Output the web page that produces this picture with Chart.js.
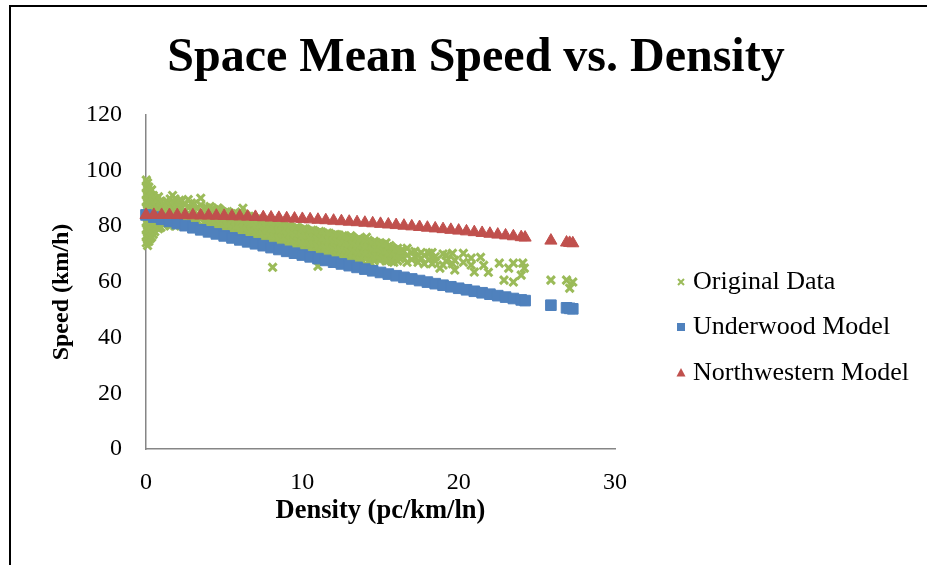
<!DOCTYPE html>
<html>
<head>
<meta charset="utf-8">
<title>Space Mean Speed vs. Density</title>
<script src="https://cdn.jsdelivr.net/npm/chart.js@4.4.1/dist/chart.umd.min.js"></script>
<style>
  html, body { margin: 0; padding: 0; background: #fff; overflow: hidden; }
  #frame {
    position: absolute; left: 9px; top: 5px;
    width: 930px; height: 560px;
    border-left: 2px solid #000; border-top: 2px solid #000;
  }
  #frame canvas { display: block; }
</style>
</head>
<body>
<div id="frame"><canvas id="speedChart" width="930" height="560"></canvas></div>
<script>
// observed detector data: density (pc/km/ln) -> speeds (km/h) seen at that density
const obsDensity = [
  0.02, 0.1, 0.18, 0.27, 0.36, 0.46, 0.56, 0.67, 0.8, 0.95,
  1.1, 1.25, 1.4, 1.55, 1.7, 1.85, 2.0, 2.15, 2.3, 2.5,
  2.7, 2.9, 3.1, 3.3, 3.5, 3.7, 3.9, 4.1, 4.35, 4.6,
  4.85, 5.1, 5.35, 5.6, 5.85, 6.1, 6.2, 6.35, 6.6, 6.85,
  7.1, 7.35, 7.6, 7.85, 8.1, 8.35, 8.6, 8.85, 9.1, 9.35,
  9.6, 9.85, 10.1, 10.35, 10.6, 10.85, 11.0, 11.1, 11.35, 11.6,
  11.85, 12.1, 12.35, 12.6, 12.85, 13.1, 13.35, 13.6, 13.85, 14.1,
  14.35, 14.6, 14.85, 15.1, 15.35, 15.6, 15.85, 16.1, 16.4, 16.7,
  17.0, 17.2, 17.4, 17.6, 17.8, 18.1, 18.3, 18.5, 18.8, 19.0,
  19.2, 19.6, 19.75, 20.3, 20.8, 21.0, 21.4, 21.6, 21.9, 22.6,
  22.9, 23.2, 23.5, 24.0, 24.1, 24.2, 25.9, 26.9, 27.1, 27.3,
  4.22, 4.47, 4.72, 4.97, 5.22, 5.47, 5.72, 5.97, 6.22, 6.47,
  6.72, 6.97, 7.22, 7.47, 7.72, 7.97, 8.22, 8.47, 8.72, 8.97,
  9.22, 9.47, 9.72, 9.97, 10.22, 10.47, 10.72, 10.97, 11.22, 11.47,
  11.72, 11.97, 12.22, 12.47, 12.72, 12.97, 13.22, 13.47, 13.72, 13.97,
  14.22, 14.47, 14.72, 14.97, 15.22, 15.47, 15.72, 15.97, 16.25
];
const obsSpeed = [
  [96.5, 94, 91.5, 89, 86.5, 84, 81.5, 79, 76.5, 74],
  [95.5, 93, 90.5, 88, 85.5, 83, 80.5, 78, 75.5, 73],
  [94, 91.5, 89, 86.5, 84, 81.5, 79, 76.5, 74.5],
  [92.5, 90, 87.5, 85, 82.5, 80, 77.5, 75.5],
  [93, 90.5, 88, 85.5, 83, 80.5, 78, 76],
  [91, 88.5, 86, 83.5, 81, 78.5, 77],
  [90, 87.5, 85, 82.5, 80, 78],
  [89.5, 87, 84.5, 82, 79.5],
  [90.5, 88, 85.5, 83, 80.5, 79],
  [89, 86.5, 84, 81.5, 79.5],
  [88, 85.5, 83, 80.5],
  [88.75, 86.25, 83.75, 81.25],
  [88.5, 86, 83.5, 81],
  [89.75, 87.25, 84.75, 82.25, 80],
  [91, 88.5, 86, 83.5, 81],
  [89.75, 87.25, 84.75, 82.25, 80],
  [88.5, 86, 83.5, 81],
  [89.25, 86.75, 84.25, 81.75],
  [89, 86.5, 84, 81.5],
  [87.75, 85.25, 82.75, 80.5],
  [89.5, 87, 84.5, 82],
  [88.25, 85.75, 83.25, 80.75],
  [88, 85.5, 83, 80.5],
  [86.75, 84.25, 81.75, 79.5],
  [90, 87.5, 85, 82.5, 80],
  [86.25, 83.75, 81.25, 79],
  [86.5, 84, 81.5, 79.5],
  [87, 84.5, 82, 79.5],
  [85.75, 83.25, 80.75, 78.5],
  [86.5, 84, 81.5, 79],
  [85.25, 82.75, 80.25, 78],
  [85, 82.5, 80, 77.5],
  [84.25, 81.75, 79.25, 77],
  [84.5, 82, 79.5, 77],
  [83.25, 80.75, 78.25, 76],
  [85, 82.5, 80, 77.5],
  [86.4],
  [84, 81.75, 79.25, 76.75],
  [83.5, 81, 78.5, 76],
  [82.25, 79.75, 77.25, 75],
  [82.5, 80, 77.5, 75],
  [81.75, 79.25, 76.75, 74.5],
  [82, 79.5, 77, 74.5],
  [81, 78.25, 75.75, 73.75],
  [81.5, 79, 76.5, 74, 65.2],
  [80.25, 77.75, 75.25, 73],
  [81, 78.5, 76, 73.5],
  [79.75, 77.25, 74.75, 72.5],
  [80, 77.5, 75, 72.5],
  [79.25, 76.75, 74.25, 72],
  [79.5, 77, 74.5, 72],
  [78.75, 76.25, 73.75, 71.5],
  [79, 76.5, 74, 71.5],
  [78.25, 75.75, 73.25, 71],
  [78.5, 76, 73.5, 71],
  [77.75, 75.25, 72.75, 70.5],
  [65.6],
  [78, 75.5, 73, 70.5],
  [77.25, 74.75, 72.25, 70],
  [77.5, 75, 72.5, 70],
  [76.75, 74.25, 71.75, 69.5],
  [77, 74.5, 72, 69.5],
  [76.75, 74.25, 71.75, 69.25],
  [76.5, 74, 71.5, 69],
  [75.75, 73.25, 70.75, 68.5],
  [76.5, 74, 71.5, 69],
  [75.25, 72.75, 70.25, 68],
  [75.5, 73, 70.5, 68.5],
  [74.75, 72.25, 69.75, 67.5],
  [76, 73.5, 71, 68.5],
  [74.25, 71.75, 69.25, 67],
  [74.5, 72, 69.5, 67.5],
  [73.75, 71.25, 68.75],
  [73.5, 71, 68.5],
  [74, 72.25, 69.75, 67.5],
  [73, 70.5, 68],
  [71.75, 69.25, 67],
  [72, 69.5, 67.5],
  [71.5, 69],
  [72, 69.5, 67],
  [68, 70.5],
  [71, 69],
  [69.5, 67],
  [70.5, 68.5],
  [66.5, 69.5],
  [70.2, 68],
  [66.5, 70.5],
  [69, 67.5],
  [64.9],
  [66, 70],
  [69.5, 67.5],
  [70.2, 66.5],
  [64.2, 67.7],
  [70.2, 67],
  [68.5, 66],
  [63.5],
  [68.8],
  [65.9],
  [63.4],
  [66.7],
  [60.6],
  [64.9],
  [66.7, 59.9],
  [62.4],
  [66.7],
  [64.9],
  [60.6],
  [60.6],
  [57.7],
  [59.9],
  [86.1, 83.6, 81.1, 78.6],
  [85.4, 82.9, 80.4, 77.9],
  [85.9, 83.4, 80.9, 78.4],
  [84.9, 82.4, 79.9, 77.4],
  [85.2, 82.7, 80.2, 77.7],
  [84.4, 81.9, 79.4, 76.9],
  [84.7, 82.2, 79.7, 77.2],
  [83.9, 81.4, 78.9, 76.4],
  [84.2, 81.7, 79.2, 76.7],
  [83.4, 80.9, 78.4, 75.9],
  [83.2, 80.7, 78.2, 75.7],
  [82.6, 80.1, 77.6, 75.1],
  [82.4, 79.9, 77.4, 74.9],
  [81.9, 79.4, 76.9, 74.4],
  [81.7, 79.2, 76.7, 74.2],
  [81.1, 78.6, 76.1, 73.6],
  [80.9, 78.4, 75.9, 73.4],
  [80.4, 77.9, 75.4, 72.9],
  [80.6, 78.1, 75.6, 73.1],
  [79.6, 77.1, 74.6, 72.1],
  [79.9, 77.4, 74.9, 72.4],
  [79.1, 76.6, 74.1, 71.6],
  [79.4, 76.9, 74.4, 71.9],
  [78.6, 76.1, 73.6, 71.1],
  [78.9, 76.4, 73.9, 71.4],
  [78.1, 75.6, 73.1, 70.6],
  [78.4, 75.9, 73.4, 70.9],
  [77.6, 75.1, 72.6, 70.1],
  [77.9, 75.4, 72.9, 70.4],
  [77.1, 74.6, 72.1, 69.6],
  [77.4, 74.9, 72.4, 69.9],
  [76.6, 74.1, 71.6, 69.1],
  [76.9, 74.4, 71.9, 69.4],
  [76.1, 73.6, 71.1, 68.6],
  [76.2, 73.7, 71.2, 68.7],
  [75.6, 73.1, 70.6, 68.1],
  [75.9, 73.4, 70.9, 68.4],
  [75.1, 72.6, 70.1, 67.6],
  [75.2, 72.7, 70.2, 67.7],
  [74.6, 72.1, 69.6],
  [74.9, 72.4, 69.9, 67.4],
  [73.9, 71.4, 68.9],
  [74.1, 71.6, 69.1],
  [73.1, 70.6, 68.1],
  [73.3, 70.8, 68.3],
  [72.6, 70.1, 67.6],
  [72.3, 69.8, 67.3],
  [71.4, 68.9],
  [70.8, 68.3]
];

// fitted model curves, same density points for both
const modelDensity = [
  0, 0.5, 1, 1.5, 2, 2.5, 3, 3.5, 4, 4.5, 5, 5.5, 6, 6.5, 7, 7.5, 8, 8.5, 9, 9.5,
  10, 10.5, 11, 11.5, 12, 12.5, 13, 13.5, 14, 14.5, 15, 15.5, 16, 16.5, 17, 17.5,
  18, 18.5, 19, 19.5, 20, 20.5, 21, 21.5, 22, 22.5, 23, 23.5, 24, 24.25,
  25.9, 26.9, 27.1, 27.3
];
const underwoodSpeed = [
  84.0, 83.21, 82.44, 81.67, 80.90, 80.14, 79.39, 78.65, 77.92, 77.19, 76.47, 75.75,
  75.04, 74.34, 73.65, 72.96, 72.27, 71.60, 70.93, 70.26, 69.60, 68.95, 68.31, 67.67,
  67.04, 66.41, 65.79, 65.17, 64.56, 63.96, 63.36, 62.77, 62.18, 61.60, 61.02, 60.45,
  59.89, 59.33, 58.77, 58.22, 57.68, 57.14, 56.60, 56.07, 55.55, 55.03, 54.51, 54.00,
  53.50, 53.25, 51.6, 50.66, 50.47, 50.3
];
const northwesternSpeed = [
  84.00, 84.00, 83.99, 83.97, 83.94, 83.91, 83.87, 83.82, 83.77, 83.71, 83.64, 83.56,
  83.48, 83.39, 83.29, 83.18, 83.07, 82.95, 82.82, 82.69, 82.56, 82.41, 82.26, 82.10,
  81.93, 81.75, 81.57, 81.39, 81.19, 80.99, 80.79, 80.57, 80.35, 80.13, 79.89, 79.66,
  79.41, 79.16, 78.90, 78.64, 78.37, 78.10, 77.82, 77.53, 77.24, 76.94, 76.64, 76.33,
  76.02, 75.86, 74.78, 74.09, 73.96, 73.82
];

const seriesNames = ['Original Data', 'Underwood Model', 'Northwestern Model'];
const xTicks = [0, 10, 20, 30];
const yTicks = [0, 20, 40, 60, 80, 100, 120];

const serif = "'Liberation Serif', 'Times New Roman', serif";
const green = '#9BBB59';
const blue = '#4F81BD';
const red = '#C0504D';

const obsPoints = [];
obsDensity.forEach(function (k, i) {
    obsSpeed[i].forEach(function (v) {
        obsPoints.push({ x: k, y: v });
    });
});
const underwoodPoints = modelDensity.map((k, i) => ({ x: k, y: underwoodSpeed[i] }));
const northwesternPoints = modelDensity.map((k, i) => ({ x: k, y: northwesternSpeed[i] }));

// legend and y title drawn by hand so they can sit where the Excel ones do
const sideLegend = {
    id: 'sideLegend',
    afterDraw(chart) {
        const ctx = chart.ctx;
        const rows = [275, 320, 366];
        const mx = 670, tx = 682;
        ctx.save();
        ctx.font = "26px " + serif;
        ctx.textBaseline = 'middle';
        chart.data.datasets.forEach(function (ds, i) {
            const y = rows[i];
            ctx.fillStyle = ds.backgroundColor;
            ctx.strokeStyle = ds.borderColor;
            if (ds.pointStyle === 'crossRot') {
                ctx.lineWidth = 2;
                ctx.beginPath();
                ctx.moveTo(mx - 3, y - 3); ctx.lineTo(mx + 3, y + 3);
                ctx.moveTo(mx + 3, y - 3); ctx.lineTo(mx - 3, y + 3);
                ctx.stroke();
            } else if (ds.pointStyle === 'rect') {
                ctx.fillRect(mx - 4, y - 4, 8, 8);
            } else {
                ctx.beginPath();
                ctx.moveTo(mx, y - 5);
                ctx.lineTo(mx + 4.5, y + 3.5);
                ctx.lineTo(mx - 4.5, y + 3.5);
                ctx.closePath();
                ctx.fill();
            }
            ctx.fillStyle = '#000';
            ctx.fillText(ds.label, tx, y);
        });

        ctx.translate(51, 285);
        ctx.rotate(-Math.PI / 2);
        ctx.font = "bold 24px " + serif;
        ctx.textAlign = 'center';
        ctx.fillText('Speed (km/h)', 0, 0);
        ctx.restore();
    }
};

const ctx = document.getElementById('speedChart').getContext('2d');
new Chart(ctx, {
    type: 'scatter',
    data: {
        datasets: [{
            label: seriesNames[0],
            data: obsPoints,
            pointStyle: 'crossRot',
            pointRadius: 5.6,
            pointBorderWidth: 3,
            borderColor: green,
            backgroundColor: green,
            clip: false,
            order: 3
        }, {
            label: seriesNames[1],
            data: underwoodPoints,
            pointStyle: 'rect',
            pointRadius: 7.5,
            pointBorderWidth: 1,
            borderColor: blue,
            backgroundColor: blue,
            clip: false,
            order: 2
        }, {
            label: seriesNames[2],
            data: northwesternPoints,
            pointStyle: 'triangle',
            pointRadius: 7,
            pointBorderWidth: 1,
            borderColor: red,
            backgroundColor: red,
            clip: false,
            order: 1
        }]
    },
    options: {
        responsive: false,
        animation: false,
        devicePixelRatio: 1,
        plugins: {
            legend: { display: false },
            tooltip: { enabled: false },
            title: {
                display: true,
                text: 'Space Mean Speed vs. Density',
                color: '#000',
                font: { family: serif, size: 48, weight: 'bold' },
                padding: { top: 23, bottom: 27 }
            }
        },
        scales: {
            x: {
                type: 'linear',
                min: xTicks[0],
                max: xTicks[xTicks.length - 1],
                afterBuildTicks: s => { s.ticks = xTicks.map(v => ({ value: v })); },
                afterFit: s => { s.height = 118; },
                grid: { display: false, drawTicks: false },
                border: { display: true, color: '#868686', width: 1.5 },
                ticks: { padding: 19, color: '#000', font: { family: serif, size: 24 } },
                title: {
                    display: true,
                    text: 'Density (pc/km/ln)',
                    color: '#000',
                    font: { family: serif, size: 26.5, weight: 'bold' },
                    padding: { top: 0, bottom: 40 }
                }
            },
            y: {
                type: 'linear',
                min: yTicks[0],
                max: yTicks[yTicks.length - 1],
                afterBuildTicks: s => { s.ticks = yTicks.map(v => ({ value: v })); },
                afterFit: s => { s.width = 135; },
                grid: { display: false, drawTicks: false },
                border: { display: true, color: '#868686', width: 1.5 },
                ticks: { padding: 24, color: '#000', font: { family: serif, size: 24 } }
            },
            // empty right-hand axis that keeps room for the legend column
            legendRoom: {
                type: 'linear',
                position: 'right',
                ticks: { display: false },
                grid: { display: false, drawTicks: false },
                border: { display: false },
                afterFit: s => { s.width = 326; }
            }
        }
    },
    plugins: [sideLegend]
});
</script>
</body>
</html>
